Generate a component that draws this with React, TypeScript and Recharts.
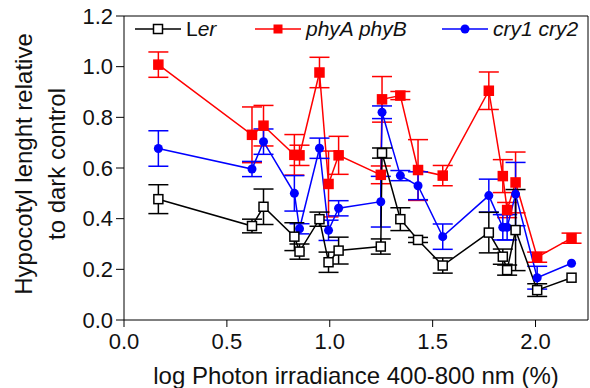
import React from 'react';
import { LineChart, Line, XAxis, YAxis, ErrorBar, Legend, ReferenceLine } from 'recharts';

// log photon irradiance (x) shared by all three genotypes
const irradiance = [0.167, 0.622, 0.678, 0.828, 0.853, 0.95, 0.994, 1.043, 1.248, 1.254, 1.343, 1.429, 1.549, 1.773, 1.841, 1.862, 1.903, 2.008, 2.175];

const ler = [0.477, 0.371, 0.447, 0.329, 0.27, 0.398, 0.228, 0.274, 0.29, 0.659, 0.398, 0.316, 0.215, 0.345, 0.25, 0.197, 0.355, 0.118, 0.167];
const lerErr = [0.057, 0.027, 0.07, 0.055, 0.03, 0.028, 0.04, 0.053, 0.03, 0.02, 0.045, 0.01, 0.03, 0.08, 0.03, 0.02, 0.16, 0.025, 0];

const phyAB = [1.008, 0.731, 0.767, 0.652, 0.65, 0.977, 0.537, 0.65, 0.573, 0.871, 0.886, 0.592, 0.57, 0.905, 0.568, 0.434, 0.543, 0.248, 0.323];
const phyABErr = [0.05, 0.11, 0.08, 0.08, 0.04, 0.06, 0.13, 0.075, 0.035, 0.09, 0.016, 0.12, 0.04, 0.074, 0.065, 0.03, 0.12, 0.02, 0.02];

const cry12 = [0.677, 0.596, 0.704, 0.5, 0.36, 0.678, 0.354, 0.441, 0.467, 0.82, 0.57, 0.53, 0.329, 0.491, 0.366, 0.366, 0.497, 0.167, 0.224];
const cry12Err = [0.07, 0.03, 0.05, 0.07, 0.02, 0.04, 0.04, 0.03, 0.1, 0.025, 0.02, 0.055, 0.05, 0.065, 0.05, 0.05, 0.125, 0.045, 0];

const xTicks = [0, 0.5, 1, 1.5, 2];
const yTicks = [0, 0.2, 0.4, 0.6, 0.8, 1.0, 1.2];
const X_MAX = 2.255;
const Y_MAX = 1.2;

const FONT = '"Liberation Sans", Arial, sans-serif';

const data = irradiance.map((x, i) => ({
  x,
  ler: ler[i],
  lerErr: lerErr[i],
  phy: phyAB[i],
  phyErr: phyABErr[i],
  cry: cry12[i],
  cryErr: cry12Err[i],
}));

const Square = (props: any) => {
  const { cx, cy, fill, stroke, index } = props;
  if (cx == null || cy == null) return <g key={index} />;
  return <rect key={index} x={cx - 4.5} y={cy - 4.5} width={9} height={9} fill={fill} stroke={stroke} strokeWidth={1.5} />;
};

const legendItems = [
  { left: 135, color: '#000000', marker: 'open', label: <span>L<i>er</i></span> },
  { left: 255, color: '#ff0000', marker: 'square', label: <i>phyA phyB</i> },
  { left: 442, color: '#0000ff', marker: 'circle', label: <i>cry1 cry2</i> },
];

const renderLegend = () => (
  <div style={{ position: 'relative', width: 590, height: 30, fontFamily: FONT, fontSize: 21, color: '#111' }}>
    {legendItems.map((it, i) => (
      <div key={i} style={{ position: 'absolute', left: it.left, top: 0, height: 30, display: 'flex', alignItems: 'center' }}>
        <svg width={46} height={12} style={{ display: 'block' }}>
          <line x1={0} y1={6} x2={46} y2={6} stroke={it.color} strokeWidth={1.5} />
          {it.marker === 'open' && <rect x={18.5} y={1.5} width={9} height={9} fill="#fff" stroke={it.color} strokeWidth={1.5} />}
          {it.marker === 'square' && <rect x={18.5} y={1.5} width={9} height={9} fill={it.color} />}
          {it.marker === 'circle' && <circle cx={23} cy={6} r={4.5} fill={it.color} />}
        </svg>
        <span style={{ marginLeft: 5, whiteSpace: 'nowrap' }}>{it.label}</span>
      </div>
    ))}
  </div>
);

const YLabel = () => (
  <g fontFamily={FONT} fontSize={24} fill="#111">
    <text x={32} y={164} textAnchor="middle" transform="rotate(-90, 32, 164)">Hypocotyl lenght relative</text>
    <text x={65} y={164} textAnchor="middle" transform="rotate(-90, 65, 164)">to dark control</text>
  </g>
);

export default function App() {
  return (
    <div style={{ position: 'absolute', left: 0, top: 0, background: '#fff' }}>
      <LineChart width={590} height={388} data={data} margin={{ top: 16, right: 2, bottom: 0, left: 0 }}>
        <XAxis
          dataKey="x"
          type="number"
          domain={[0, X_MAX]}
          ticks={xTicks}
          tickFormatter={(v: number) => v.toFixed(1)}
          height={68}
          stroke="#000"
          tickSize={7}
          tickMargin={6}
          tick={{ fill: '#111', fontSize: 22, fontFamily: FONT }}
          label={{ value: 'log Photon irradiance 400-800 nm (%)', position: 'insideBottom', offset: 4, style: { fill: '#111', fontSize: 24, fontFamily: FONT } }}
        />
        <YAxis
          domain={[0, Y_MAX]}
          ticks={yTicks}
          tickFormatter={(v: number) => v.toFixed(1)}
          width={124}
          stroke="#000"
          tickSize={8}
          tickMargin={3}
          tick={{ fill: '#111', fontSize: 22, fontFamily: FONT }}
          label={{ content: () => <YLabel /> }}
        />
        {/* frame: top and right edges of the plot box */}
        <ReferenceLine y={Y_MAX} stroke="#000" strokeWidth={1} />
        <ReferenceLine x={X_MAX} stroke="#000" strokeWidth={1} />
        <Legend layout="horizontal" verticalAlign="middle" align="center" content={renderLegend} wrapperStyle={{ top: 14, left: 0, width: 590 }} />
        <Line dataKey="phy" stroke="#ff0000" strokeWidth={1.5} isAnimationActive={false}
          dot={(p: any) => <Square {...p} fill="#ff0000" stroke="#ff0000" />}>
          <ErrorBar dataKey="phyErr" direction="y" width={10} stroke="#ff0000" strokeWidth={1.5} />
        </Line>
        <Line dataKey="cry" stroke="#0000ff" strokeWidth={1.5} isAnimationActive={false}
          dot={{ r: 4.5, fill: '#0000ff', stroke: '#0000ff', strokeWidth: 0 }}>
          <ErrorBar dataKey="cryErr" direction="y" width={10} stroke="#0000ff" strokeWidth={1.5} />
        </Line>
        <Line dataKey="ler" stroke="#000000" strokeWidth={1.5} isAnimationActive={false}
          dot={(p: any) => <Square {...p} fill="#ffffff" stroke="#000000" />}>
          <ErrorBar dataKey="lerErr" direction="y" width={10} stroke="#000000" strokeWidth={1.5} />
        </Line>
      </LineChart>
    </div>
  );
}
